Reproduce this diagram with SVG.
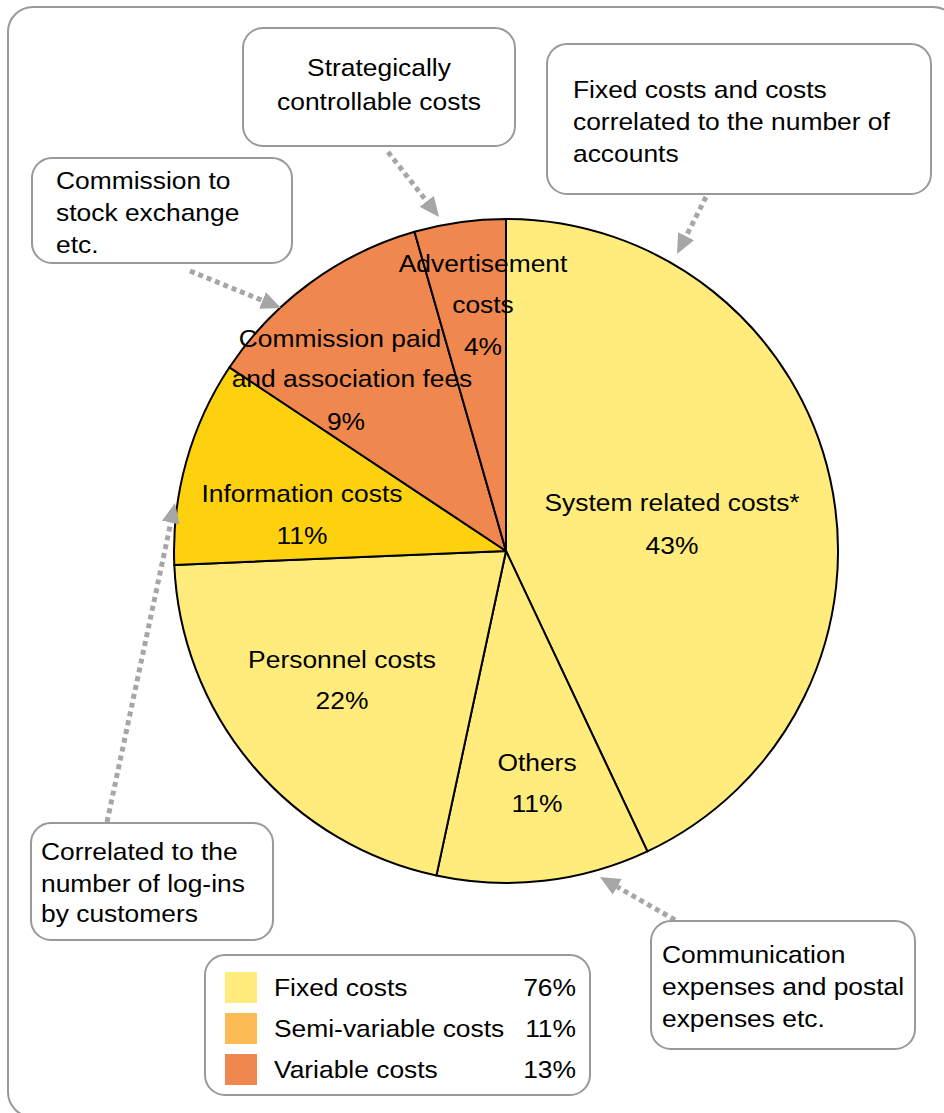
<svg xmlns="http://www.w3.org/2000/svg" width="944" height="1113" viewBox="0 0 944 1113">
<style>
.frame{fill:#fff;stroke:#999;stroke-width:2}
.box{fill:#fff;stroke:#999;stroke-width:2}
.sl{stroke:#000;stroke-width:2;stroke-linejoin:round}
.fix{fill:#FFEC7D}
.semi{fill:#FDD10E}
.var{fill:#EF874E}
.t{font-family:"Liberation Sans",Arial,sans-serif;font-size:24px;fill:#000}
.m{text-anchor:middle}
.e{text-anchor:end}
.con{fill:none;stroke:#A6A6A6;stroke-width:5;stroke-dasharray:5 4}
</style>
<defs>
<marker id="ah" viewBox="0 0 20 18" refX="0" refY="9" markerWidth="20" markerHeight="18" markerUnits="userSpaceOnUse" orient="auto">
<path d="M0,0 L20,9 L0,18 z" fill="#A6A6A6"/>
</marker>
</defs>
<rect class="frame" x="8" y="7" width="950" height="1110" rx="25"/>

<g id="pie">
<path class="sl fix" d="M506,551 L506,219 A332,332 0 0 1 647.4,851.4 Z"/>
<path class="sl fix" d="M506,551 L647.4,851.4 A332,332 0 0 1 436.4,875.6 Z"/>
<path class="sl fix" d="M506,551 L436.4,875.6 A332,332 0 0 1 174.3,564.9 Z"/>
<path class="sl semi" d="M506,551 L174.3,564.9 A332,332 0 0 1 229.5,367.3 Z"/>
<path class="sl var" d="M506,551 L229.5,367.3 A332,332 0 0 1 414.5,231.8 Z"/>
<path class="sl var" d="M506,551 L414.5,231.8 A332,332 0 0 1 506,219 Z"/>
</g>

<g id="slice-labels">
<text class="t m" transform="matrix(1.1 0 0 1 672 511)">System related costs*</text>
<text class="t m" transform="matrix(1.1 0 0 1 672 554)">43%</text>
<text class="t m" transform="matrix(1.1 0 0 1 537 771)">Others</text>
<text class="t m" transform="matrix(1.1 0 0 1 537 812)">11%</text>
<text class="t m" transform="matrix(1.1 0 0 1 342 668)">Personnel costs</text>
<text class="t m" transform="matrix(1.1 0 0 1 342 709)">22%</text>
<text class="t m" transform="matrix(1.1 0 0 1 302 502)">Information costs</text>
<text class="t m" transform="matrix(1.1 0 0 1 302 544)">11%</text>
<text class="t m" transform="matrix(1.1 0 0 1 340 347)">Commission paid</text>
<text class="t m" transform="matrix(1.1 0 0 1 352 387)">and association fees</text>
<text class="t m" transform="matrix(1.1 0 0 1 346 430)">9%</text>
<text class="t m" transform="matrix(1.1 0 0 1 483 272)">Advertisement</text>
<text class="t m" transform="matrix(1.1 0 0 1 483 313)">costs</text>
<text class="t m" transform="matrix(1.1 0 0 1 483 355)">4%</text>
</g>

<g id="connectors">
<path class="con" d="M388,152 L426.7,201.3" marker-end="url(#ah)"/>
<path class="con" d="M706,197 L686.1,236.2" marker-end="url(#ah)"/>
<path class="con" d="M190,271 L262.5,300.5" marker-end="url(#ah)"/>
<path class="con" d="M107,822 L170.8,522.6" marker-end="url(#ah)"/>
<path class="con" d="M675,920 L617.3,886.9" marker-end="url(#ah)"/>
</g>

<g id="note-strategic">
<rect class="box" x="243" y="28" width="272" height="118" rx="20"/>
<text class="t m" transform="matrix(1.1 0 0 1 379 76)">Strategically</text>
<text class="t m" transform="matrix(1.1 0 0 1 379 110)">controllable costs</text>
</g>

<g id="note-fixed">
<rect class="box" x="547" y="44" width="384" height="150" rx="20"/>
<text class="t" transform="matrix(1.1 0 0 1 573 98)">Fixed costs and costs</text>
<text class="t" transform="matrix(1.1 0 0 1 573 130)">correlated to the number of</text>
<text class="t" transform="matrix(1.1 0 0 1 573 162)">accounts</text>
</g>

<g id="note-commission">
<rect class="box" x="32" y="158" width="260" height="105" rx="20"/>
<text class="t" transform="matrix(1.1 0 0 1 56 189)">Commission to</text>
<text class="t" transform="matrix(1.1 0 0 1 56 221)">stock exchange</text>
<text class="t" transform="matrix(1.1 0 0 1 56 253)">etc.</text>
</g>

<g id="note-logins">
<rect class="box" x="31" y="823" width="242" height="117" rx="20"/>
<text class="t" transform="matrix(1.1 0 0 1 41 860)">Correlated to the</text>
<text class="t" transform="matrix(1.1 0 0 1 41 892)">number of log-ins</text>
<text class="t" transform="matrix(1.1 0 0 1 41 922)">by customers</text>
</g>

<g id="note-communication">
<rect class="box" x="651" y="921" width="264" height="128" rx="20"/>
<text class="t" transform="matrix(1.1 0 0 1 662 963)">Communication</text>
<text class="t" transform="matrix(1.1 0 0 1 662 995)">expenses and postal</text>
<text class="t" transform="matrix(1.1 0 0 1 662 1027)">expenses etc.</text>
</g>

<g id="legend">
<rect class="box" x="205" y="955" width="385" height="140" rx="20"/>
<rect x="225" y="972" width="32" height="31" fill="#FFEC7D"/>
<rect x="225" y="1013" width="32" height="31" fill="#FDBB55"/>
<rect x="225" y="1054" width="32" height="31" fill="#EF874E"/>
<text class="t" transform="matrix(1.1 0 0 1 274 996)">Fixed costs</text>
<text class="t" transform="matrix(1.1 0 0 1 274 1037)">Semi-variable costs</text>
<text class="t" transform="matrix(1.1 0 0 1 274 1078)">Variable costs</text>
<text class="t e" transform="matrix(1.1 0 0 1 576 996)">76%</text>
<text class="t e" transform="matrix(1.1 0 0 1 576 1037)">11%</text>
<text class="t e" transform="matrix(1.1 0 0 1 576 1078)">13%</text>
</g>
</svg>
